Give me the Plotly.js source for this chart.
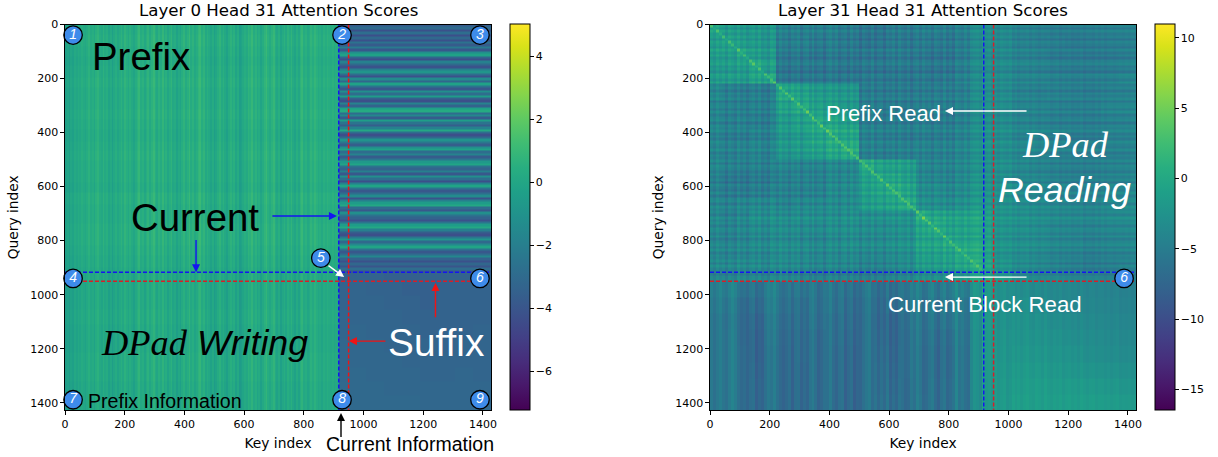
<!DOCTYPE html>
<html><head><meta charset="utf-8">
<script src="https://cdn.plot.ly/plotly-3.0.1.min.js"></script>
<style>html,body{margin:0;padding:0;background:#fff}</style></head>
<body><div id="chart" style="width:1218px;height:457px"></div>
<script>
// ---------- left panel values (Layer 0) ----------
const writeCols = [-0.3,-0.1,-0.4,0.0,-0.2,0.2,0.0,0.3,0.1,0.4,0.2,0.0,0.3,0.6,0.2,0.4,0.0,0.5,0.7,0.3,0.1,0.6,0.2,0.4,-0.1,0.2,-0.3,0.1,0.4,0.0,0.3,0.6,0.2,0.7,0.4,0.1,0.5,0.2,-0.1,0.3,0.6,0.9,0.3,0.5,0.0,0.4,0.7,0.2,0.6,0.9,0.4,0.1,0.6,0.3,0.8,0.2,0.5,0.0,0.4,0.7,0.1,0.3,-0.2,0.2,-0.1,0.4,0.7,0.2,0.5,0.9,0.3,0.6,0.1,0.4,0.8,1.0,0.4,0.7,0.1,0.5,0.2,-0.1,0.3,-0.3,0.0,0.4,0.7,0.2,0.5,0.1,-0.2,0.3,0.6,0.2,0.5,-0.1,0.3,-0.4,-0.2,0.1,0.4,0.2,0.7,0.5,0.9,0.3,0.6,0.1,0.4,-0.1,0.3,0.7,1.0,0.5,0.2,0.6,0.9,0.3,0.0,0.4,-0.2,0.2,0.5,0.1,0.6,0.3,0.7,0.2,-0.1,0.4,0.0,0.6,0.9,0.3,0.5,0.1,0.3,0.7,0.4,0.8,0.5,0.2,0.4,0.1,0.5,0.3,0.6,0.4,0.3,0.5,0.2,0.4,0.3];
const writeRowTint = [0,0.1,0,-0.1,0,0.1,0,0,0.1,0,-0.1,0,0.1,0,0,-0.1,0.1,0,0,0.1,0.1,0,-0.1,-0.2,-0.2,-0.2,-0.2,-0.1,-0.1,-0.2,-0.2,-0.1,-0.1,-0.1,-0.2,-0.2,-0.2];
const prefixStripes = [-3.7,-3.0,-4.2,-2.8,-4.3,-3.1,-4.2,-2.6,-3.7,-2.2,-3.9,-1.2,-0.2,-3.2,-4.3,-1.9,-3.1,-4.1,-2.0,-0.9,-2.9,-4.2,-1.4,-3.2,-0.2,-2.5,-3.9,-1.2,-2.9,-0.5,-3.4,-4.3,-1.8,-3.4,-0.3,0.3,-2.9,-1.6,-3.7,-0.4,-2.5,-3.6,-1.9,0.1,-2.8,-4.3,-3.1,-1.0,-2.4,-3.6,-1.2,-0.2,-2.9,-1.8,-3.7,-2.4,-0.7,-0.1,-2.6,-3.4,-2.0,-3.9,-1.2,-2.8,-4.3,-1.9,-0.1,-2.5,-3.9,-2.8,-1.4,-4.1,-2.0,-0.5,0.1,-2.9,-3.9,-1.2,-2.6,-3.4,-4.2,-2.5,-0.5,0.1,-2.0,-3.6,-4.3,-2.4,-0.9,-3.1,-1.5,-0.1,-2.5,-3.9,-2.9,-1.6,-3.4,-4.2,-3.2,-4.0,-2.9,-3.9];
const suffixGrid = [
[-3.4,-3.4,-3.4,-3.5,-3.5,-3.4,-3.4,-3.4,-3.4],
[-3.4,-3.3,-3.4,-3.4,-3.5,-3.5,-3.4,-3.4,-3.4],
[-3.4,-3.3,-3.3,-3.4,-3.4,-3.5,-3.4,-3.4,-3.4],
[-3.3,-3.3,-3.3,-3.3,-3.4,-3.4,-3.4,-3.4,-3.4],
[-3.3,-3.2,-3.3,-3.3,-3.3,-3.4,-3.4,-3.4,-3.3],
[-3.2,-3.2,-3.2,-3.3,-3.3,-3.3,-3.4,-3.3,-3.3],
[-3.2,-3.2,-3.2,-3.2,-3.3,-3.3,-3.3,-3.3,-3.3],
[-3.2,-3.1,-3.2,-3.2,-3.2,-3.3,-3.3,-3.2,-3.3],
[-3.1,-3.1,-3.1,-3.2,-3.2,-3.2,-3.2,-3.2,-3.2],
[-3.1,-3.1,-3.1,-3.1,-3.1,-3.2,-3.2,-3.2,-3.2]];

// ---------- right panel values (Layer 31) ----------
const readEdges = [0,45,90,135,180,225,280,335,390,445,500,548,595,643,690,735,780,825,870,915,950,1010,1070,1130,1190,1250,1310,1370,1427];
const readGrid = [
[-1.2,-2.0,-2.4,-2.4,-2.6,-5.0,-5.2,-5.0,-5.2,-5.6,-6.0,-6.2,-5.6,-5.6,-5.4,-5.2,-5.4,-5.0,-4.2,-3.6,-4.0,-4.8,-5.0,-5.4,-5.4,-5.2,-5.0,-4.8],
[-1.8,-1.2,-1.8,-2.2,-2.4,-5.2,-5.0,-5.4,-5.4,-5.8,-6.2,-6.0,-5.6,-5.8,-5.6,-5.6,-5.6,-5.2,-4.4,-3.5,-3.8,-4.8,-5.0,-5.2,-5.6,-5.4,-5.2,-5.0],
[-1.6,-1.6,-0.8,-1.8,-2.0,-5.6,-5.4,-5.8,-5.6,-5.8,-5.8,-5.8,-5.4,-5.6,-5.8,-6.0,-5.8,-5.2,-4.4,-3.5,-3.8,-4.6,-4.8,-5.4,-5.4,-5.6,-5.4,-5.0],
[-2.0,-1.8,-1.6,-0.6,-1.4,-5.8,-5.6,-5.6,-5.6,-6.0,-5.6,-5.8,-5.6,-5.6,-5.6,-5.8,-5.6,-5.0,-4.2,-3.3,-3.6,-4.4,-4.6,-5.0,-5.2,-5.2,-5.0,-4.6],
[-2.0,-1.7,-2.0,-1.0,-0.6,-5.8,-5.8,-5.6,-5.8,-5.8,-5.6,-5.6,-5.8,-5.8,-5.6,-5.8,-5.4,-4.8,-4.2,-3.3,-3.6,-4.4,-4.4,-4.8,-5.0,-5.0,-4.8,-4.2],
[-4.0,-4.8,-5.2,-5.0,-5.2,-0.6,-1.2,-1.8,-2.2,-2.4,-5.2,-5.4,-5.4,-5.4,-5.4,-5.2,-5.0,-5.0,-4.0,-3.3,-3.6,-4.6,-4.8,-4.8,-5.0,-5.2,-4.8,-4.6],
[-4.6,-5.0,-5.2,-5.0,-5.0,-1.4,-0.6,-1.4,-1.8,-2.6,-5.2,-5.4,-5.6,-5.6,-5.4,-5.2,-5.2,-4.8,-4.2,-3.3,-3.6,-4.6,-4.6,-5.0,-5.2,-5.2,-4.6,-4.4],
[-4.2,-4.8,-4.6,-5.0,-4.8,-1.8,-1.2,-0.2,-0.6,-1.2,-4.8,-5.0,-5.0,-5.0,-4.8,-5.0,-5.0,-4.6,-3.8,-3.1,-3.4,-4.2,-4.4,-4.8,-4.8,-5.0,-4.6,-4.4],
[-4.4,-5.0,-5.0,-4.6,-4.6,-2.2,-1.8,-0.6,-0.2,-0.6,-4.6,-4.8,-5.0,-5.2,-5.0,-5.0,-4.8,-4.4,-3.8,-2.9,-3.2,-4.2,-4.2,-4.6,-5.0,-5.0,-4.6,-4.4],
[-4.4,-4.8,-4.6,-4.4,-4.6,-2.4,-2.0,-1.2,-0.6,0.0,-4.8,-5.0,-5.0,-4.8,-4.8,-4.8,-4.6,-4.2,-3.6,-2.9,-3.4,-4.0,-4.2,-4.6,-4.8,-5.0,-4.8,-4.6],
[-4.2,-4.8,-5.0,-4.8,-4.8,-4.4,-4.6,-4.4,-4.2,-4.2,-0.2,-1.0,-1.4,-1.6,-4.4,-4.4,-4.4,-4.0,-3.6,-3.2,-3.2,-4.0,-4.4,-4.8,-5.0,-5.0,-4.6,-4.4],
[-4.8,-5.6,-5.8,-5.4,-5.2,-4.8,-4.6,-4.6,-4.2,-4.0,-1.2,-0.4,-0.8,-1.4,-4.2,-4.2,-4.4,-3.8,-3.2,-3.0,-3.2,-4.0,-4.0,-4.6,-4.8,-4.8,-4.4,-4.2],
[-4.8,-5.4,-5.4,-5.2,-4.8,-4.8,-4.8,-4.6,-4.0,-3.8,-1.4,-0.8,-0.2,-0.8,-3.8,-3.6,-4.0,-3.6,-3.0,-2.8,-3.0,-3.8,-4.0,-4.4,-4.6,-4.6,-4.2,-4.0],
[-4.2,-4.6,-4.2,-4.0,-3.8,-4.4,-4.0,-3.8,-3.8,-3.6,-1.6,-1.2,-0.8,0.0,-3.2,-3.2,-3.4,-3.0,-2.6,-2.4,-2.8,-3.4,-3.6,-4.0,-4.2,-4.4,-3.8,-3.6],
[-4.2,-4.8,-4.2,-3.4,-3.2,-3.6,-3.4,-3.4,-3.6,-3.2,-3.4,-3.2,-3.0,-3.0,0.0,-0.8,-1.0,-1.2,-1.2,-1.4,-2.6,-3.0,-3.4,-3.8,-4.0,-4.2,-3.8,-3.6],
[-4.0,-4.4,-4.0,-3.6,-3.4,-3.4,-3.6,-3.6,-3.4,-3.2,-3.4,-3.4,-3.2,-2.8,-0.8,0.0,-0.8,-1.0,-1.2,-1.4,-2.6,-3.0,-3.4,-4.0,-4.2,-4.4,-4.0,-3.8],
[-4.2,-4.6,-4.2,-3.8,-3.6,-3.6,-3.8,-4.0,-3.8,-3.4,-3.6,-3.6,-3.2,-2.8,-1.0,-0.8,-0.2,-0.8,-1.0,-1.2,-2.6,-3.2,-3.4,-4.0,-4.2,-4.6,-4.2,-4.0],
[-4.2,-4.4,-4.2,-4.0,-3.8,-3.6,-3.8,-4.0,-4.0,-3.8,-4.0,-4.0,-3.6,-3.2,-1.4,-1.2,-0.8,-0.2,-0.6,-1.2,-2.8,-3.4,-3.8,-4.4,-4.6,-5.0,-4.6,-4.4],
[-4.0,-4.0,-3.8,-3.8,-3.8,-3.8,-4.0,-4.2,-4.2,-4.2,-4.6,-4.6,-4.2,-3.6,-2.0,-1.8,-1.4,-0.8,-0.4,-0.8,-2.6,-3.6,-4.0,-4.6,-5.0,-5.4,-5.0,-4.6],
[-4.6,-4.6,-4.4,-4.4,-4.4,-4.4,-4.8,-5.0,-5.0,-5.0,-5.2,-5.2,-4.8,-4.4,-3.6,-3.4,-3.2,-2.4,-1.4,-0.8,-2.2,-3.8,-4.2,-4.4,-4.8,-4.8,-5.0,-5.0],
[-5.0,-5.2,-5.6,-5.8,-5.4,-5.6,-5.8,-6.0,-5.8,-5.8,-6.0,-6.6,-6.2,-5.6,-5.4,-5.2,-5.0,-4.4,-3.6,-1.8,-3.0,-3.4,-3.6,-3.8,-4.0,-4.2,-4.4,-4.6],
[-5.4,-5.8,-6.4,-6.4,-5.8,-6.0,-6.4,-6.2,-6.0,-6.2,-6.4,-7.0,-6.6,-5.8,-5.8,-5.6,-5.4,-5.0,-4.0,-2.0,-3.0,-3.0,-3.4,-3.8,-4.0,-4.0,-4.2,-4.4],
[-5.8,-6.2,-6.6,-7.0,-6.2,-6.4,-6.6,-6.4,-6.4,-6.4,-6.6,-7.2,-7.2,-6.2,-6.0,-6.0,-5.8,-5.2,-4.2,-2.0,-2.9,-2.7,-2.9,-3.3,-3.5,-3.7,-3.9,-4.1],
[-5.8,-6.0,-6.6,-7.2,-6.4,-6.6,-6.8,-6.8,-6.4,-6.6,-6.6,-7.0,-7.2,-6.4,-6.2,-6.4,-6.4,-5.4,-4.4,-2.0,-2.6,-2.6,-2.6,-2.8,-3.2,-3.4,-3.6,-3.8],
[-5.8,-6.0,-6.4,-7.2,-6.6,-6.8,-6.8,-6.8,-6.6,-6.8,-6.6,-6.8,-7.0,-6.4,-6.4,-6.6,-6.6,-5.6,-4.4,-2.0,-2.5,-2.3,-2.3,-2.5,-2.7,-3.1,-3.3,-3.5],
[-5.8,-6.0,-6.4,-7.0,-6.6,-6.8,-7.0,-6.8,-6.6,-6.8,-6.6,-6.6,-6.8,-6.4,-6.4,-6.6,-6.6,-5.6,-4.4,-2.0,-2.3,-1.9,-1.9,-2.1,-2.3,-2.5,-2.7,-2.9],
[-5.8,-6.0,-6.4,-6.8,-6.6,-6.8,-7.0,-6.8,-6.6,-6.8,-6.6,-6.6,-6.6,-6.6,-6.4,-6.4,-6.4,-5.6,-4.4,-2.2,-2.1,-1.7,-1.5,-1.7,-1.7,-1.9,-2.1,-2.3],
[-5.8,-6.0,-6.4,-6.8,-6.6,-6.8,-7.0,-6.8,-6.6,-6.8,-6.6,-6.4,-6.4,-6.6,-6.2,-6.4,-6.4,-5.6,-4.4,-2.2,-2.0,-1.4,-1.4,-1.4,-1.4,-1.4,-1.6,-1.8]];
const rowTexture = [0.8,-0.9,1.1,-0.4,0.6,-1.2,0.9,0.2,-1.0,1.2,-0.5,0.8,-1.1,0.4,1.0,-0.8,0.1,-1.4,1.1,0.5,-0.9,1.2,-0.4,0.6,-1.1,0.9,-0.2,1.0,-1.2,0.5,0.8,-0.8,1.2,-1.0,0.2,0.9,-1.4,0.6,-0.2,1.1,-0.9,0.4,-1.1,1.0,0.1,-0.6,1.2,-1.0,0.5,-0.4,0.9,-1.2,0.8,0.2,-0.9,1.1,-0.5,0.6,-1.4,1.0,0.0,-0.8,1.1,-1.0,0.4,0.8,-1.2,0.9,-0.4,0.5,-1.0,1.2,-0.2,0.6,-1.1,0.8,0.4,-0.9,1.0,-1.2,0.2,0.9,-0.6,1.1,-1.0,0.5,-0.2,0.8,-1.2,1.0,-0.5,0.4,-0.9,0.6,0.8];
const colTexture = [0.4,-0.6,0.9,-0.2,0.5,-1.0,0.8,0.1,-0.8,1.1,-0.4,0.6,-0.9,0.2,0.8,-0.5,1.0,-0.8,0.1,-1.1,0.9,0.4,-0.6,1.0,-0.2,0.5,-1.0,0.6,-0.1,0.9,-1.1,0.4,0.8,-0.6,1.1,-0.8,0.2,0.6,-1.2,0.5,1.2,-0.2,0.9,-1.0,0.4,0.8,-0.8,1.1,-0.4,0.5,-1.1,0.8,0.1,-0.6,1.0,-0.9,0.4,0.6,-1.0,0.5,-0.2,0.9,-0.8,1.1,0.1,-0.5,0.8,-1.0,0.4,0.9,-0.6,1.0,-0.1,0.5,-0.9,0.8,0.2,-0.6,1.0,-0.8,0.4,-1.0,0.8,0.1,-0.5,0.9,-0.4,0.6,1.0,1.2,0.6,0.9,0.2,0.6,-0.2,0.4,-0.4,0.5,0.1,-0.2,0.4,-0.1,0.5,-0.4,0.2,0.0,0.4,-0.2,0.5,0.1,-0.4,0.2,-0.1,0.4,-0.2,0.1,0.4,-0.4,0.2,0.0,0.4,-0.2,0.1,-0.1,0.4,-0.4,0.2,0.1,-0.2,0.4,-0.1,0.2,-0.4,0.1,0.2,-0.1,0.2,0.0,-0.2,0.1,-0.1,0.2,0.0];
const lowerStripes = [0.4,-0.6,0.3,1.0,0.2,-0.4,0.8,1.8,0.9,0.0,-0.8,-0.3,-1.2,0.2,0.6,-1.4,-0.4,-0.9,0.3,1.2,0.7,1.8,0.6,-0.4,-1.0,-0.4,0.4,-1.2,0.5,0.8,-0.8,0.2,-0.6,0.9,1.6,0.4,-1.0,-0.5,0.6,0.2,1.4,-0.2,-1.0,0.3,0.8,-1.4,-0.2,0.4,-1.6,-0.6,-1.0,0.2,1.0,1.6,-0.2,0.6,-0.8,0.4,-0.6,1.0,-1.2,0.0,-1.0,0.6,0.2,-0.8,-0.4,1.0,0.2,1.6,0.6,-1.0,-0.6,0.6,1.2,-0.4,-1.4,0.2,0.8,-1.0,-0.4,0.5,1.6,-0.4,0.2,-0.8,-1.2,0.6,2.0,1.6,0.8,1.2,0.2,0.5,0.0,0.6,-0.2,0.3,0.7,-0.3,0.1,0.5,-0.1,0.4,-0.2,0.3,0.6,0.0,-0.2,0.4,0.2,-0.3,0.5,0.1,-0.2,0.3,0.0,0.4,-0.3,0.2,0.4,-0.1,0.2,-0.3,0.4,0.1,-0.2,0.2,0.3,-0.2,0.1,0.3,-0.1,0.2,-0.2,0.1,0.3,-0.1,0.1,0.0,0.2,-0.1,0.1];
const diagonalBoost = [3.0,2.6,2.4,2.2,2.6,2.8,2.4,2.8,3.0,2.6,2.4,2.2,2.6,3.0,2.8,2.4,2.6,2.2,2.8,3.0,3.2,3.0,2.6,2.8,3.4,3.2,3.6,3.2,2.8,2.6,3.0,3.4,3.6,3.8,3.4,3.0,3.2,3.6,3.8,3.4,3.2,3.6,3.4,3.0,2.8,3.2,3.4,3.0,2.8,3.0,3.2,2.8,2.6,3.0,3.4,3.2,2.8,3.0,3.4,3.0,2.8,3.2,3.0,2.6,2.8,3.2,3.4,3.0,2.6,3.0,3.4,3.6,3.2,2.8,3.0,3.2,2.8,2.6,3.0,3.2,2.8,2.4,2.6,2.8,2.4,2.2,2.4,2.6,2.2,2.0,2.2,2.4];

// ---------- annotations' readings ----------
const badgeLeftX = [27,928,1390,27,857,1390,27,928,1390];
const badgeLeftY = [39,39,39,940,865,940,1389,1389,1389];
const badgeLeftText = ['1','2','3','4','5','6','7','8','9'];
const badgeRightX = [1387], badgeRightY = [940], badgeRightText = ['6'];
const currentStart = 917, currentEnd = 950, axisMax = 1427;

// ---------- grids ----------
const FONT = 'DejaVu Sans', SANS = 'Liberation Sans', SERIF = 'Liberation Serif';
const W = 1218, H = 457;
const axisTop = 24.5, axisBottom = 410;

const lx = [], ly = [];
for (let i = 0; i < writeCols.length; i++) lx.push(i * 6);
lx.push(918, currentEnd);
for (let i = 1; i <= 8; i++) lx.push(currentEnd + (axisMax - currentEnd) * i / 8);
for (let i = 0; i < prefixStripes.length; i++) ly.push(i * 9);
ly.push(918, currentEnd);
for (let i = 1; i <= 9; i++) ly.push(currentEnd + (axisMax - currentEnd) * i / 9);
const lz = [];
for (let r = 0; r < ly.length - 1; r++) {
  const row = [], yc = (ly[r] + ly[r + 1]) / 2;
  const tint = writeRowTint[Math.floor(yc / 39)];
  for (let c = 0; c < lx.length - 1; c++) {
    if (c < writeCols.length) row.push(writeCols[c] + tint);
    else if (r < prefixStripes.length) row.push(prefixStripes[r]);
    else row.push(suffixGrid[r - prefixStripes.length][c - writeCols.length]);
  }
  lz.push(row);
}

const rEdges = [];
for (let i = 0; i < 143; i++) rEdges.push(i * 10);
rEdges.push(axisMax);
const coarse = v => { let k = 0; while (k < readEdges.length - 2 && readEdges[k + 1] <= v) k++; return k; };
const rz = [];
for (let r = 0; r < 143; r++) {
  const row = [], yc = rEdges[r] + 5;
  for (let c = 0; c < 143; c++) {
    const xc = rEdges[c] + 5;
    let v = readGrid[coarse(yc)][coarse(xc)] + (yc < 950 ? (rowTexture[r] || 0) + (colTexture[c] || 0) : (lowerStripes[c] || 0));
    if (r === c && r < diagonalBoost.length) v += diagonalBoost[r];
    row.push(v);
  }
  rz.push(row);
}

const cbar = (x, dtick) => ({
  x: x / W, xanchor: 'left', xpad: 0, ypad: 0, thickness: 20, thicknessmode: 'pixels',
  len: (axisBottom - axisTop) / H, lenmode: 'fraction', y: (H - axisBottom) / H, yanchor: 'bottom',
  outlinewidth: 1, outlinecolor: '#000', ticks: 'outside', ticklen: 3.5, tickwidth: 0.8, tickcolor: '#000',
  dtick: dtick, tick0: 0, tickfont: {family: FONT, size: 11, color: '#000'}
});
const line = (x, y, color, xa, ya) => ({type: 'scatter', mode: 'lines', x, y, xaxis: xa, yaxis: ya, hoverinfo: 'skip',
  line: {color, width: 1.5, dash: '4px,2px'}});
const badge = (x, y, t, xa, ya) => ({type: 'scatter', mode: 'markers+text', x, y, xaxis: xa, yaxis: ya,
  text: t.map(s => '<i>' + s + '</i>'), textposition: 'middle center', cliponaxis: false, hoverinfo: 'skip',
  textfont: {family: SANS, size: 14, color: '#fff'},
  marker: {size: 18.5, color: '#3e8bea', line: {color: '#000', width: 1.3}}});

const traces = [
  {type: 'heatmap', x: lx, y: ly, z: lz, colorscale: 'Viridis', zmin: -7.23, zmax: 5.02, xaxis: 'x', yaxis: 'y', colorbar: cbar(509.5, 2)},
  {type: 'heatmap', x: rEdges, y: rEdges, z: rz, colorscale: 'Viridis', zmin: -16.45, zmax: 10.97, xaxis: 'x2', yaxis: 'y2', colorbar: cbar(1154.7, 5)},
  line([currentStart, currentStart], [0, axisMax], '#1414f0', 'x', 'y'),
  line([0, axisMax], [currentStart, currentStart], '#1414f0', 'x', 'y'),
  line([currentEnd, currentEnd], [0, axisMax], '#f01414', 'x', 'y'),
  line([0, axisMax], [currentEnd, currentEnd], '#d81e28', 'x', 'y'),
  line([currentStart, currentStart], [0, axisMax], '#1414f0', 'x2', 'y2'),
  line([0, axisMax], [currentStart, currentStart], '#1414f0', 'x2', 'y2'),
  line([currentEnd, currentEnd], [0, axisMax], '#d81e28', 'x2', 'y2'),
  line([0, axisMax], [currentEnd, currentEnd], '#d81e28', 'x2', 'y2'),
  badge(badgeLeftX, badgeLeftY, badgeLeftText, 'x', 'y'),
  badge(badgeRightX, badgeRightY, badgeRightText, 'x2', 'y2')
];

const axis = (left, right, anchor, extra) => Object.assign({
  domain: [left / W, right / W], anchor, range: [0, axisMax], dtick: 200, tick0: 0,
  ticks: 'outside', ticklen: 3.5, tickwidth: 0.8, tickcolor: '#000',
  showline: true, mirror: true, linecolor: '#000', linewidth: 1.1, showgrid: false, zeroline: false,
  tickfont: {family: FONT, size: 11, color: '#000'}
}, extra || {});
const yDom = [(H - axisBottom) / H, (H - axisTop) / H];
const axisTitle = t => ({text: t, font: {family: FONT, size: 13.8, color: '#000'}, standoff: 8});

const paperText = (px, py, text, size, family, color) => ({xref: 'paper', yref: 'paper', x: px / W, y: (H - py) / H,
  xanchor: 'center', yanchor: 'middle', showarrow: false, text, font: {family, size, color}});
const arrow = (xa, ya, x, y, ax, ay, color) => ({xref: xa, yref: ya, axref: xa, ayref: ya, x, y, ax, ay,
  font: {size: 1}, borderpad: 0, showarrow: true, arrowhead: 2, arrowsize: 1.15, arrowwidth: 1.4, arrowcolor: color, standoff: 0, startstandoff: 0});

const annotations = [
  paperText(278, 10, 'Layer 0 Head 31 Attention Scores', 16.6, FONT, '#000'),
  paperText(923, 10, 'Layer 31 Head 31 Attention Scores', 16.6, FONT, '#000'),
  paperText(141, 56, 'Prefix', 38.4, SANS, '#000'),
  paperText(195, 217, 'Current', 38.4, SANS, '#000'),
  paperText(435.5, 342, 'Suffix', 38.8, SANS, '#fff'),
  paperText(144.5, 343, '<i>DPad</i>', 36.4, SERIF, '#000'),
  paperText(252.5, 343, '<i>Writing</i>', 35.7, SANS, '#000'),
  paperText(165, 401, 'Prefix Information', 19.6, SANS, '#000'),
  paperText(410, 444, 'Current Information', 19.5, SANS, '#000'),
  paperText(883.5, 113, 'Prefix Read', 22, SANS, '#fff'),
  paperText(985, 304, 'Current Block Read', 22.2, SANS, '#fff'),
  paperText(1065.5, 145, '<i>DPad</i>', 36.4, SERIF, '#fff'),
  paperText(1064.5, 190, '<i>Reading</i>', 35.7, SANS, '#fff'),
  arrow('x', 'y', 911, 709, 693, 709, '#1414f0'),
  arrow('x', 'y', 439, 917, 439, 794, '#1414f0'),
  arrow('x', 'y', 935, 935, 881, 891, '#fff'),
  arrow('x', 'y', 1241, 957, 1241, 1087, '#f01414'),
  arrow('x', 'y', 951, 1172, 1075, 1172, '#f01414'),
  arrow('x2', 'y2', 787, 320, 1062, 320, '#fff'),
  arrow('x2', 'y2', 787, 935, 1062, 935, '#fff'),
  {xref: 'paper', yref: 'paper', x: 341 / W, y: (H - 413) / H, ax: 0, ay: 25, axref: 'pixel', ayref: 'pixel',
   font: {size: 1}, borderpad: 0, showarrow: true, arrowhead: 2, arrowsize: 1.15, arrowwidth: 1.4, arrowcolor: '#000', standoff: 0}
];

Plotly.newPlot('chart', traces, {
  width: W, height: H, margin: {l: 0, r: 0, t: 0, b: 0, pad: 0}, showlegend: false,
  paper_bgcolor: '#fff', plot_bgcolor: '#fff', annotations,
  xaxis: axis(65, 491, 'y', {title: axisTitle('Key index')}),
  yaxis: Object.assign(axis(0, 1, 'x', {title: axisTitle('Query index'), autorange: false, range: [axisMax, 0]}), {domain: yDom}),
  xaxis2: axis(710, 1136, 'y2', {title: axisTitle('Key index')}),
  yaxis2: Object.assign(axis(0, 1, 'x2', {title: axisTitle('Query index'), autorange: false, range: [axisMax, 0]}), {domain: yDom})
}, {displayModeBar: false, responsive: false});
</script></body></html>
